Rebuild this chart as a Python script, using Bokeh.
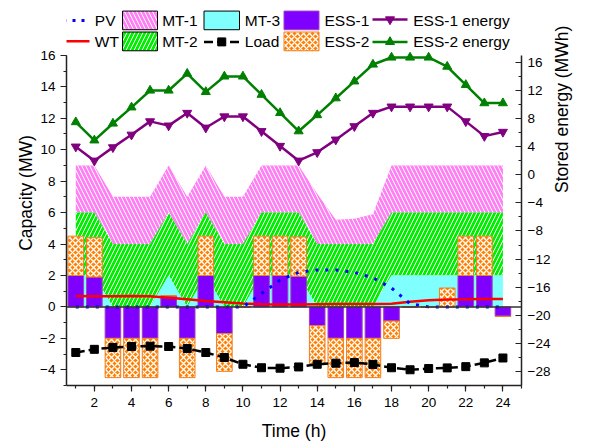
import math
from bokeh.plotting import figure
from bokeh.models import LinearAxis, Range1d, FixedTicker, Span
from bokeh.core.properties import value
from bokeh.embed import file_html
from bokeh.resources import INLINE

# Hourly dispatch data
hours = list(range(1, 25))
pv = [0, 0, 0, 0, 0, 0, 0, 0, 0, 0, 0.85, 1.7, 2.2, 2.35, 2.35, 2.2, 1.85, 1.2, 0.2, 0, 0, 0, 0, 0]
wt = [0.7, 0.68, 0.68, 0.7, 0.68, 0.58, 0.48, 0.37, 0.3, 0.22, 0.17, 0.16, 0.16, 0.17, 0.18, 0.18,
      0.18, 0.2, 0.33, 0.43, 0.47, 0.48, 0.5, 0.5]
mt3 = [2, 2, 0, 0, 0, 2, 0, 2, 0, 0, 2, 2, 2, 0, 0, 0, 0, 2, 2, 2, 2, 2, 2, 2]
mt2 = [4, 4, 4, 4, 4, 4, 4, 4, 4, 4, 4, 4, 4, 4, 4, 4, 4, 4, 4, 4, 4, 4, 4, 4]
mt1 = [3, 3, 3, 3, 3, 3, 3, 3, 3, 3, 3, 3, 3, 3.2, 1.55, 1.6, 1.9, 3, 3, 3, 3, 3, 3, 3]
load = [-2.9, -2.7, -2.58, -2.52, -2.5, -2.52, -2.65, -2.9, -3.22, -3.65, -3.87, -3.9, -3.82, -3.65,
        -3.58, -3.54, -3.66, -3.87, -4.0, -3.92, -3.88, -3.8, -3.56, -3.25]
ess1 = [2, 1.9, -2, -2, -2, 0.7, -2, 2, -1.7, 0, 2, 2, 1.95, -1.2, -2, -2, -2, -0.9, 0, 0, 0, 2, 2, -0.6]
ess2 = [2.5, 2.5, -2.5, -2.5, -2.5, 0, -2.5, 2.5, -2.4, 0, 2.5, 2.5, 2.5, -2.4, -2.5, -2.5, -2.5, -1.1,
        0, 0, 1.2, 2.5, 2.5, 0]
ess1_energy = [4.0, 2.0, 3.9, 5.7, 7.6, 7.0, 8.8, 6.7, 8.3, 8.3, 6.2, 4.1, 2.0, 3.2, 5.0, 6.9, 8.8,
               9.7, 9.7, 9.7, 9.7, 7.6, 5.5, 6.1]
ess2_energy = [7.5, 4.9, 7.3, 9.6, 12.0, 12.0, 14.4, 11.8, 14.0, 14.0, 11.4, 8.8, 6.2, 8.5, 10.9, 13.3,
               15.7, 16.7, 16.7, 16.7, 15.4, 12.8, 10.2, 10.2]

# axis extents
CAP_MIN, CAP_MAX = -5, 16
EN_MIN, EN_MAX = -30, 17

FONT = "Liberation Sans"
PINK, GREEN, CYAN = "#FF80F4", "#00EE00", "#80FFFF"
PURPLE, ORANGE = "#8000FF", "#FF8000"
E1_COLOR, E2_COLOR = "#800080", "#008000"

PINK_HATCH = dict(fill_color=PINK, hatch_pattern="left_diagonal_line", hatch_color="white",
                  hatch_scale=8, hatch_weight=1)
GREEN_HATCH = dict(fill_color=GREEN, hatch_pattern="right_diagonal_line", hatch_color="white",
                   hatch_scale=8, hatch_weight=1)
ORANGE_HATCH = dict(fill_color=ORANGE, hatch_pattern="diagonal_cross", hatch_color="white",
                    hatch_scale=6, hatch_weight=1.3)

# stacked generation levels
lvl3 = mt3
lvl2 = [a + b for a, b in zip(mt3, mt2)]
lvl1 = [a + b for a, b in zip(lvl2, mt1)]
zeros = [0] * len(hours)

# storage bars: ESS-1 next to zero, ESS-2 stacked beyond it
ess2_bottom = ess1
ess2_top = [a + b for a, b in zip(ess1, ess2)]

# The plotting area reaches the top of the canvas so the legend rows can sit
# above the axes; the axes themselves are bounded to their data extents.
W, H = 590, 443
LEFT, RIGHT, BOTTOM = 66, 69, 57
AXIS_TOP = 55                      # pixel row of the top of both value axes
frame_h = H - BOTTOM
axis_h = frame_h - AXIS_TOP
cap_top = CAP_MAX + AXIS_TOP * (CAP_MAX - CAP_MIN) / axis_h
en_top = EN_MAX + AXIS_TOP * (EN_MAX - EN_MIN) / axis_h

p = figure(width=W, height=H, x_range=Range1d(0.5, 25), y_range=Range1d(CAP_MIN, cap_top),
           output_backend="svg", toolbar_location=None, x_axis_type=None, y_axis_type=None,
           min_border_left=LEFT, min_border_right=RIGHT, min_border_top=0, min_border_bottom=BOTTOM)
p.outline_line_color = None
p.background_fill_color = "white"
p.extra_y_ranges = {"energy": Range1d(EN_MIN, en_top), "py": Range1d(frame_h, 0)}
p.extra_x_ranges = {"px": Range1d(LEFT, W - RIGHT)}

p.varea(x=hours, y1=lvl2, y2=lvl1, **PINK_HATCH)
p.varea(x=hours, y1=lvl3, y2=lvl2, **GREEN_HATCH)
p.varea(x=hours, y1=zeros, y2=lvl3, fill_color=CYAN)

p.vbar(x=hours, bottom=zeros, top=ess1, width=0.84, fill_color=PURPLE, line_color="#A040C0", line_width=1)
p.vbar(x=hours, bottom=ess2_bottom, top=ess2_top, width=0.84, line_color="#F08020", line_width=1,
       **ORANGE_HATCH)

p.add_layout(Span(location=0, dimension="width", line_color="#333333", line_width=1.5))

p.line(hours, wt, line_color="red", line_width=2.5)
p.line(hours, pv, line_color="blue", line_width=3, line_dash="3 7")

p.line(hours, load, line_color="black", line_width=2.5, line_dash="9 4")
p.scatter(hours, load, marker="square", size=8, fill_color="black", line_color="black")

p.line(hours, ess1_energy, line_color=E1_COLOR, line_width=2.5, y_range_name="energy")
p.scatter(hours, ess1_energy, marker="inverted_triangle", size=9, fill_color=E1_COLOR,
          line_color=E1_COLOR, y_range_name="energy")
p.line(hours, ess2_energy, line_color=E2_COLOR, line_width=2.5, y_range_name="energy")
p.scatter(hours, ess2_energy, marker="triangle", size=9, fill_color=E2_COLOR,
          line_color=E2_COLOR, y_range_name="energy")


def style_axis(ax):
    ax.axis_line_color = "#222222"
    ax.axis_line_width = 1.5
    ax.major_tick_line_color = "#222222"
    ax.minor_tick_line_color = "#222222"
    ax.major_tick_line_width = 1.2
    ax.minor_tick_line_width = 1.2
    ax.major_label_text_font = FONT
    ax.major_label_text_font_size = "13.5px"
    ax.major_label_text_color = "black"
    ax.axis_label_text_font = FONT
    ax.axis_label_text_font_size = "17.5px"
    ax.axis_label_text_font_style = "normal"
    ax.axis_label_text_color = "black"


xaxis = LinearAxis(ticker=FixedTicker(ticks=list(range(2, 25, 2)), minor_ticks=list(range(1, 26))),
                   axis_label="Time (h)")
style_axis(xaxis)
xaxis.major_tick_in, xaxis.major_tick_out = 0, 6
xaxis.minor_tick_in, xaxis.minor_tick_out = 0, 3
xaxis.major_label_standoff = 6
xaxis.axis_label_standoff = 11
p.add_layout(xaxis, "below")

yleft = LinearAxis(ticker=FixedTicker(ticks=list(range(-4, 17, 2)), minor_ticks=list(range(-5, 17))),
                   axis_label="Capacity (MW)", bounds=(CAP_MIN, CAP_MAX))
style_axis(yleft)
yleft.major_tick_in, yleft.major_tick_out = 0, 6
yleft.minor_tick_in, yleft.minor_tick_out = 0, 3
yleft.major_label_standoff = 5
yleft.axis_label_standoff = 1
p.add_layout(yleft, "left")

yright = LinearAxis(y_range_name="energy",
                    ticker=FixedTicker(ticks=list(range(-28, 17, 4)), minor_ticks=list(range(-30, 17, 2))),
                    axis_label="Stored energy (MWh)", bounds=(EN_MIN, EN_MAX))
style_axis(yright)
yright.major_tick_in, yright.major_tick_out = 6, 0
yright.minor_tick_in, yright.minor_tick_out = 3, 0
yright.major_label_standoff = 6
yright.axis_label_standoff = 9
yright.axis_label_orientation = math.pi / 2
p.add_layout(yright, "right")

# ---------------- legend (two rows above the axes, in pixel coordinates) ----------------
LG = dict(x_range_name="px", y_range_name="py")
glyph_l = [54, 122, 203.5, 283.5, 372]
glyph_r = [89, 157, 239, 318.5, 407]
text_x = [94.3, 161.7, 244.3, 324, 412.7]
row1_labels = ["PV", "MT-1", "MT-3", "ESS-1", "ESS-1 energy"]
row2_labels = ["WT", "MT-2", "Load", "ESS-2", "ESS-2 energy"]
R1_TOP, R1_BOT, R2_TOP, R2_BOT = 10.6, 29.3, 31.6, 50.4
R1_MID, R2_MID = 20.0, 41.5


def box(i, top, bot, line_color, **kw):
    p.quad(left=[glyph_l[i]], right=[glyph_r[i]], top=[top], bottom=[bot],
           line_color=line_color, line_width=1, **kw, **LG)


def seg(i, y, **kw):
    p.line([glyph_l[i], glyph_r[i]], [y, y], **kw, **LG)


def mark(i, y, marker, size, color):
    p.scatter([(glyph_l[i] + glyph_r[i]) / 2], [y], marker=marker, size=size,
              fill_color=color, line_color=color, **LG)


seg(0, R1_MID, line_color="blue", line_width=3, line_dash="3 6")
box(1, R1_TOP, R1_BOT, "black", **PINK_HATCH)
box(2, R1_TOP, R1_BOT, "black", fill_color=CYAN)
box(3, R1_TOP, R1_BOT, "#A040C0", fill_color=PURPLE)
seg(4, R1_MID - 1, line_color=E1_COLOR, line_width=2.5)
mark(4, R1_MID - 1, "inverted_triangle", 9, E1_COLOR)

seg(0, R2_MID - 0.7, line_color="red", line_width=2.5)
box(1, R2_TOP, R2_BOT, "black", **GREEN_HATCH)
seg(2, R2_MID, line_color="black", line_width=2.5, line_dash="9 4")
mark(2, R2_MID, "square", 8, "black")
box(3, R2_TOP, R2_BOT, "#F08020", **ORANGE_HATCH)
seg(4, R2_MID, line_color=E2_COLOR, line_width=2.5)
mark(4, R2_MID, "triangle", 9, E2_COLOR)

p.text(x=text_x, y=[R1_MID] * 5, text=row1_labels, text_font=value(FONT), text_font_size="15.5px",
       text_baseline="middle", text_align="left", text_color="black", **LG)
p.text(x=text_x, y=[R2_MID] * 5, text=row2_labels, text_font=value(FONT), text_font_size="15.5px",
       text_baseline="middle", text_align="left", text_color="black", **LG)

open("out.html", "w").write(file_html(p, INLINE))
